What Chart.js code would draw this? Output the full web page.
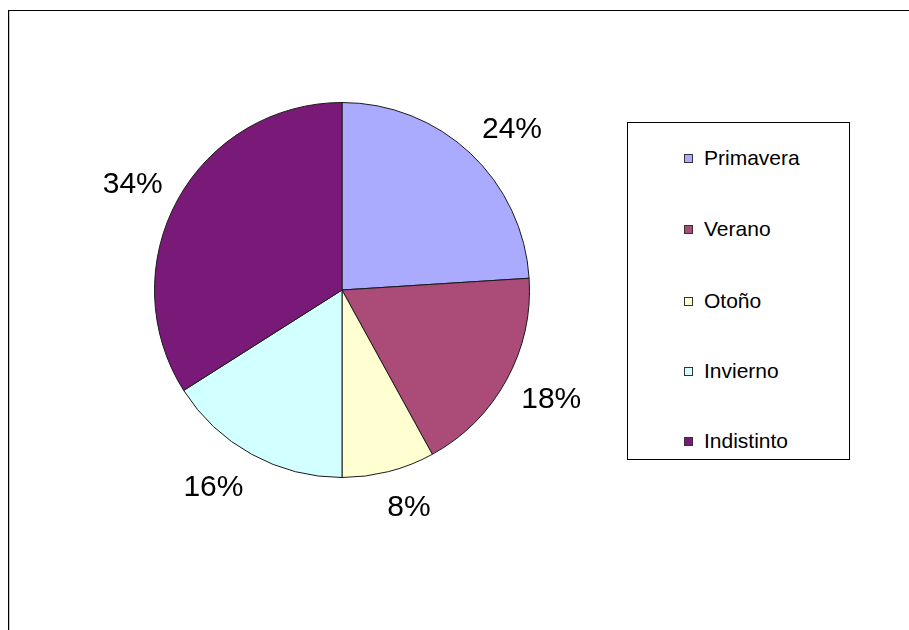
<!DOCTYPE html>
<html>
<head>
<meta charset="utf-8">
<script src="https://cdn.jsdelivr.net/npm/chart.js@4.4.1/dist/chart.umd.min.js"></script>
<style>
  html, body { margin: 0; padding: 0; background: #fff; }
  #wrap { position: relative; width: 909px; height: 630px; overflow: hidden; }
  #frame { position: absolute; left: 8px; top: 10px; width: 920px; height: 640px;
           border-top: 1px solid #000; border-left: 1px solid #000;
           box-shadow: inset 1px 0 0 #c8c8c8; }
  #chart_for_pie { position: absolute; left: 0; top: 0; }
  #legend { position: absolute; left: 627px; top: 122px; width: 221px; height: 336px;
            border: 1px solid #000; background: #fff;
            font-family: "Liberation Sans", Arial, sans-serif; font-size: 21px; color: #000; }
  .item { position: absolute; left: 56px; height: 24px; line-height: 24px; white-space: nowrap; }
  .box { position: absolute; left: 0; top: 8px; width: 7px; height: 7px; border: 1px solid #333; }
  .txt { position: absolute; left: 20px; top: 0; }
</style>
</head>
<body>
<div id="wrap">
  <div id="frame"></div>
  <canvas id="chart_for_pie" width="909" height="630"></canvas>
  <div id="legend"></div>
</div>
<script>
const seasons = ['Primavera', 'Verano', 'Otoño', 'Invierno', 'Indistinto'];
const percents = [24, 18, 8, 16, 34];
const sliceColors = ['#AAAAFF', '#AA4B78', '#FFFFD2', '#D2FFFF', '#7A1A78'];

// percent labels outside the slices, box pushed away from the edge
const outsideLabels = {
  id: 'outsideLabels',
  afterDatasetsDraw(chart) {
    const ctx = chart.ctx;
    const meta = chart.getDatasetMeta(0);
    const fontSize = 30;
    const gap = 17;
    const clamp = v => Math.max(-1, Math.min(1, v));
    ctx.save();
    ctx.font = fontSize + 'px "Liberation Sans", Arial, sans-serif';
    ctx.fillStyle = '#000';
    ctx.textAlign = 'center';
    ctx.textBaseline = 'alphabetic';
    meta.data.forEach((arc, i) => {
      const p = arc.getProps(['x', 'y', 'startAngle', 'endAngle', 'outerRadius'], true);
      const mid = (p.startAngle + p.endAngle) / 2;
      const ux = Math.cos(mid), uy = Math.sin(mid);
      const text = chart.data.datasets[0].data[i] + '%';
      const hw = ctx.measureText(text).width / 2;
      const capHalf = fontSize * 0.716 / 2;
      const hy = fontSize * 0.57;
      const cx = p.x + ux * (p.outerRadius + gap) + hw * clamp(ux * 3);
      const cy = p.y + uy * (p.outerRadius + gap) + hy * clamp(uy * 1.1);
      ctx.fillText(text, cx, cy + capHalf);
    });
    ctx.restore();
  }
};

const chartElement = document.getElementById('chart_for_pie');
const chart = new Chart(chartElement, {
  type: 'pie',
  data: {
    labels: seasons,
    datasets: [{
      data: percents,
      backgroundColor: sliceColors,
      borderColor: '#1a1a1a',
      borderWidth: 1
    }]
  },
  options: {
    responsive: false,
    animation: false,
    layout: { padding: { left: 154, top: 102, right: 379, bottom: 152 } },
    plugins: {
      legend: { display: false },
      tooltip: { enabled: false }
    }
  },
  plugins: [outsideLabels]
});

// legend box
const legend = document.getElementById('legend');
const rowTops = [23, 94, 166, 236, 306];
seasons.forEach((name, i) => {
  const row = document.createElement('div');
  row.className = 'item';
  row.style.top = rowTops[i] + 'px';
  row.innerHTML = '<span class="box" style="background:' + sliceColors[i] + '"></span><span class="txt">' + name + '</span>';
  legend.appendChild(row);
});
</script>
</body>
</html>
